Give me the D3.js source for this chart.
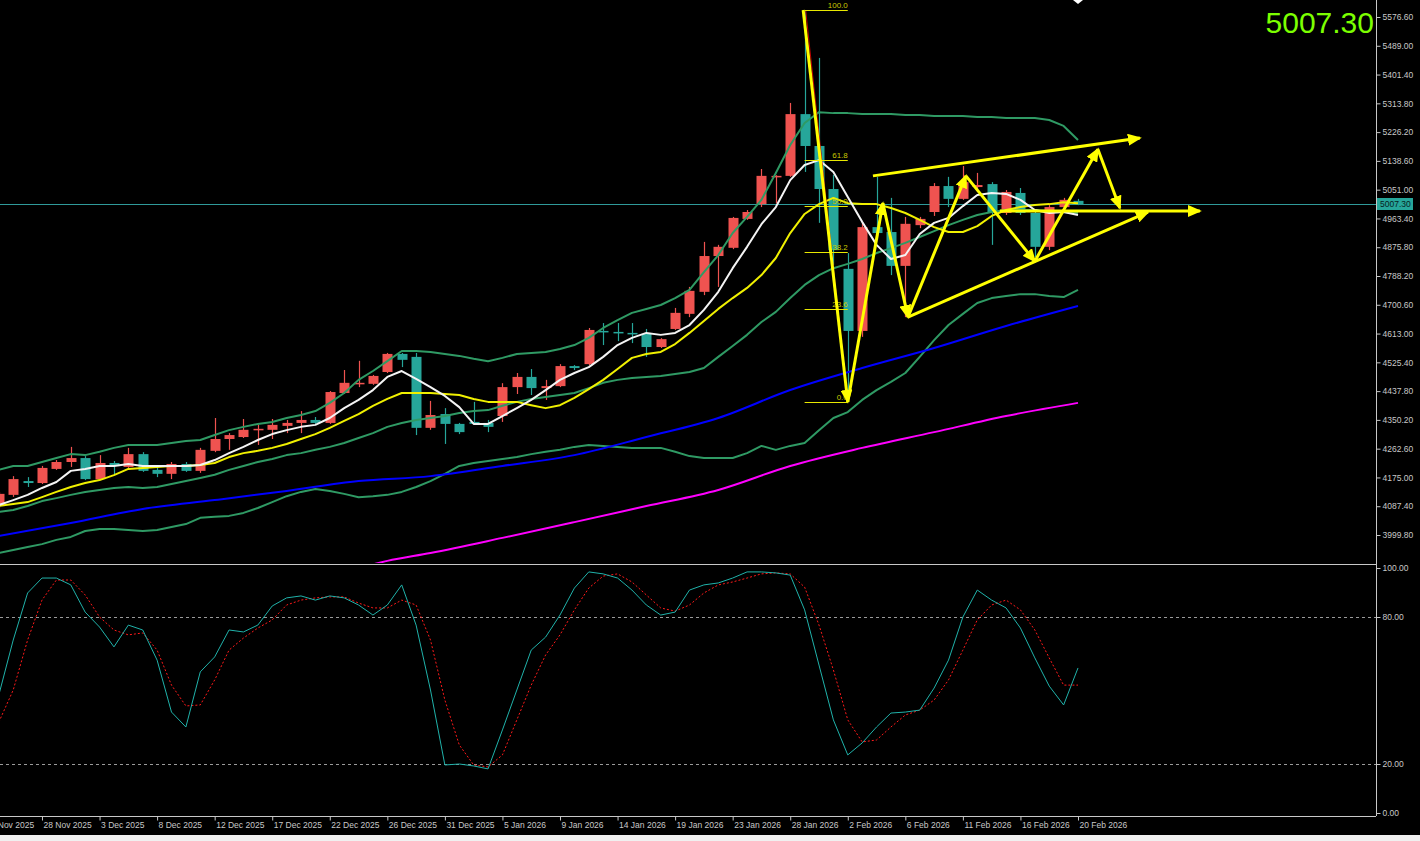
<!DOCTYPE html>
<html><head><meta charset="utf-8">
<script src="https://cdn.jsdelivr.net/npm/d3@7"></script>
<style>html,body{margin:0;padding:0;background:#000;overflow:hidden}</style>
</head><body>
<svg id="c" width="1420" height="841"></svg>
<script>
// ---------- DATA (XAUUSD daily) ----------
const tickBars = [-1,3,7,11,15,19,23,27,31,35,39,43,47,51,55,59,63,67,71,75];
const tickLabels = ["24 Nov 2025","28 Nov 2025","3 Dec 2025","8 Dec 2025","12 Dec 2025","17 Dec 2025","22 Dec 2025","26 Dec 2025","31 Dec 2025","5 Jan 2026","9 Jan 2026","14 Jan 2026","19 Jan 2026","23 Jan 2026","28 Jan 2026","2 Feb 2026","6 Feb 2026","11 Feb 2026","16 Feb 2026","20 Feb 2026"];
const priceTicks = [5576.6,5489.0,5401.4,5313.8,5226.2,5138.6,5051.0,4963.4,4875.8,4788.2,4700.6,4613.0,4525.4,4437.8,4350.2,4262.6,4175.0,4087.4,3999.8];
const stochTicks = [0,20,80,100];

const open  = [4088,4122,4164,4158,4201,4222,4234,4170,4219,4207,4246,4198,4186,4216,4195,4256,4292,4298,4320,4320,4332,4341,4350,4341,4432,4460,4460,4496,4551,4542,4326,4368,4338,4344,4341,4362,4450,4481,4447,4453,4514,4520,4621,4618,4615,4612,4572,4627,4673,4740,4849,4874,4962,5007,5090,5093,5281,5184,5053,4810,4621,4937,4922,4819,4943,4983,5062,5023,5059,5068,4980,5041,4980,4877,4998,5017];
const high  = [4131,4179,4176,4210,4228,4268,4240,4243,4225,4265,4252,4207,4222,4222,4265,4356,4310,4353,4335,4353,4350,4377,4359,4438,4502,4530,4487,4554,4554,4554,4408,4386,4341,4405,4350,4462,4493,4505,4472,4520,4517,4630,4645,4645,4645,4627,4599,4691,4755,4892,4883,4968,4989,5114,5095,5315,5598,5452,5096,4858,4953,5090,5026,4968,4968,5071,5090,5123,5102,5074,5050,5056,4989,5004,5026,5023];
const low   = [4082,4116,4146,4155,4198,4207,4167,4167,4183,4204,4192,4176,4170,4192,4189,4252,4259,4295,4274,4292,4310,4310,4338,4338,4429,4450,4457,4493,4511,4304,4320,4277,4307,4335,4313,4344,4429,4426,4411,4450,4502,4517,4578,4590,4584,4542,4569,4624,4663,4730,4755,4870,4959,4998,5010,5090,5105,4950,4822,4405,4603,4898,4791,4663,4934,4971,4998,5020,5044,4883,4974,4974,4846,4867,4995,5004];
const close = [4125,4170,4158,4204,4222,4234,4170,4219,4213,4246,4195,4186,4216,4195,4259,4292,4304,4320,4323,4335,4341,4350,4341,4435,4463,4463,4484,4551,4533,4326,4365,4338,4313,4338,4329,4450,4481,4447,4453,4514,4508,4624,4618,4615,4612,4572,4596,4676,4743,4849,4877,4965,4983,5093,5093,5281,5184,5053,4867,4621,4937,4919,4819,4947,4962,5062,5023,5074,5065,4980,5044,4980,4877,4998,5020,5007.3];

const maFast = [4091,4106,4122,4143,4161,4195,4201,4210,4210,4216,4210,4210,4210,4210,4213,4228,4249,4268,4289,4307,4319,4329,4335,4356,4386,4411,4441,4481,4499,4475,4450,4423,4389,4338,4338,4362,4386,4411,4441,4472,4493,4511,4542,4578,4600,4615,4609,4615,4639,4685,4740,4812,4877,4946,4998,5080,5126,5141,5105,5029,4953,4883,4840,4852,4916,4950,4965,5001,5035,5041,5038,5020,4989,4980,4983,4974];
const maMid  = [4088,4094,4100,4115,4131,4146,4158,4167,4182,4201,4204,4207,4210,4210,4213,4219,4237,4249,4256,4265,4277,4292,4307,4326,4347,4368,4393,4414,4432,4432,4432,4429,4426,4414,4405,4405,4405,4395,4386,4395,4417,4444,4472,4505,4539,4551,4557,4581,4615,4651,4688,4721,4752,4791,4843,4919,4977,5007,5026,5010,5007,5007,4995,4980,4959,4937,4922,4922,4940,4971,4989,4998,5004,5007,5013,5010];
const bbUpper = [4198,4210,4210,4222,4234,4246,4243,4253,4265,4274,4274,4274,4280,4286,4289,4304,4319,4329,4338,4344,4356,4365,4377,4402,4432,4472,4499,4529,4560,4560,4557,4551,4545,4536,4529,4539,4551,4554,4557,4566,4578,4600,4630,4654,4676,4688,4700,4721,4746,4800,4852,4919,4968,5020,5102,5187,5254,5287,5284,5284,5281,5281,5281,5278,5278,5275,5275,5275,5272,5272,5269,5269,5269,5263,5245,5202];
const bbMiddle = [4070,4076,4088,4103,4112,4122,4131,4137,4143,4146,4143,4146,4155,4164,4173,4183,4198,4210,4222,4231,4243,4249,4259,4268,4280,4295,4310,4329,4341,4350,4356,4362,4371,4377,4380,4393,4405,4414,4420,4426,4432,4447,4463,4472,4478,4481,4484,4490,4496,4508,4542,4575,4609,4648,4679,4721,4761,4791,4812,4825,4840,4858,4873,4889,4907,4925,4943,4959,4974,4983,4989,4989,4989,4986,4983,4980];
const bbLower = [3945,3954,3963,3972,3985,3994,4012,4018,4018,4015,4012,4015,4024,4033,4052,4055,4058,4067,4082,4100,4118,4131,4140,4134,4125,4115,4118,4122,4131,4146,4164,4186,4210,4219,4225,4231,4237,4246,4253,4259,4268,4274,4271,4268,4265,4265,4265,4253,4240,4234,4234,4234,4249,4271,4259,4271,4280,4319,4356,4374,4411,4441,4466,4493,4542,4593,4639,4673,4706,4721,4727,4733,4733,4727,4724,4746];
const slowBars = [0,5,10,15,20,25,30,35,40,45,50,55,60,65,70,75];
const maSlow = [3997,4036,4079,4106,4134,4164,4179,4210,4243,4298,4356,4441,4508,4569,4636,4697];
const longBars = [25,27,30,35,40,45,50,55,60,65,70,75];
const maLong = [3899,3921,3945,3991,4039,4088,4137,4210,4265,4313,4362,4402];

const stochK = [48.2,70.6,89.8,95.9,95.9,93.1,82.0,75.9,67.8,76.7,74.7,62.4,41.2,35.1,57.6,63.7,74.7,73.9,76.7,84.5,87.8,88.6,86.9,88.6,87.8,84.9,80.8,84.9,93.1,76.7,50.2,19.6,20.0,19.2,18.0,33.9,50.2,66.5,71.8,80.8,91.8,98.4,97.6,95.9,91.0,84.9,80.8,82.0,91.0,93.1,93.9,95.9,98.4,98.4,98.0,97.1,82.9,60.4,38.0,23.7,28.6,35.1,40.8,41.2,42.0,51.0,62.4,80.0,91.0,86.9,83.7,75.5,63.3,51.8,44.1,59.2];
const stochD = [37.1,50.2,70.6,86.9,95.1,95.1,89.0,80.0,74.7,72.7,73.5,66.5,52.2,43.7,44.1,54.3,66.5,71.4,75.5,78.8,84.9,86.9,87.8,88.2,88.2,85.7,83.7,83.7,86.9,84.9,70.6,46.1,27.8,19.6,18.8,23.7,38.0,52.2,64.5,72.7,82.9,91.8,96.7,97.6,94.3,89.0,83.7,82.4,84.9,89.8,93.1,94.3,95.9,97.6,98.0,97.6,92.2,76.7,58.4,38.0,29.0,29.8,35.1,40.0,42.0,46.1,54.3,66.5,78.8,84.9,86.9,82.9,74.7,63.3,52.2,52.2];
const stochLevels = [80,20];

// drawings: [bar, price]
const zigzag = [[55.9,5598],[59,4405],[61.44,5010],[63.18,4663],[67.21,5093],[72.0,4833],[76.38,5174],[77.91,4995]];
const upperTrend = [[60.75,5093],[79.3,5208]];
const lowerTrend = [[63.18,4663],[79.86,4983]];
const flatLine = [[69.57,4986],[83.47,4986]];
const fibHigh = [56,5597.9];
const fibLow = [59,4404.7];
const fibLevels = [0,23.6,38.2,50,61.8,100];

// ---------- CHART ----------
const W=1420,H=841, plotR=1376, mainB=563, stTop=566, stB=816;
const svg=d3.select("#c");
svg.append("rect").attr("width",W).attr("height",H).attr("fill","#000");
svg.append("rect").attr("y",835).attr("width",W).attr("height",6).attr("fill","#f0f0f0");

const x=d3.scaleLinear().domain([0,75]).range([-1.17,1078]);
const y=d3.scaleLinear().domain([3999.8,5576.6]).range([535,17]);
const ys=d3.scaleLinear().domain([0,100]).range([813,568]);

const defs=svg.append("defs");
defs.append("clipPath").attr("id","cm").append("rect").attr("x",0).attr("y",0).attr("width",plotR).attr("height",mainB);
defs.append("clipPath").attr("id","cs").append("rect").attr("x",0).attr("y",stTop).attr("width",plotR).attr("height",stB-stTop);
defs.append("marker").attr("id","ah").attr("viewBox","0 0 14 12").attr("refX",12).attr("refY",6)
  .attr("markerWidth",14).attr("markerHeight",12).attr("markerUnits","userSpaceOnUse").attr("orient","auto")
  .append("path").attr("d","M0,0L14,6L0,12Z").attr("fill","#ffff00");

const font="'Liberation Sans', Arial, sans-serif";
const axisCol="#c8c8c8";

const main=svg.append("g").attr("clip-path","url(#cm)");
// current price line
const last=close[close.length-1];
main.append("line").attr("x1",0).attr("x2",plotR).attr("y1",Math.round(y(last))+0.5).attr("y2",Math.round(y(last))+0.5)
  .attr("stroke","#2f9a9a").attr("stroke-width",1);

// candles
const bars=d3.range(open.length);
const up="#ef5350", dn="#26a69a";
const cg=main.append("g");
bars.forEach(i=>{
  const c=close[i]>=open[i]?up:dn;
  const cx=Math.round(x(i))+0.5;
  cg.append("line").attr("x1",cx).attr("x2",cx).attr("y1",y(high[i])).attr("y2",y(low[i])).attr("stroke",c).attr("stroke-width",1.2);
  const t=y(Math.max(open[i],close[i])), b=y(Math.min(open[i],close[i]));
  cg.append("rect").attr("x",cx-5).attr("width",10).attr("y",t).attr("height",Math.max(1.5,b-t)).attr("fill",c);
});

const lineIdx=(arr,col,w)=>main.append("path").datum(arr).attr("fill","none").attr("stroke",col).attr("stroke-width",w)
  .attr("stroke-linejoin","round").attr("d",d3.line().x((d,i)=>x(i)).y(d=>y(d)));
const lineBars=(idx,arr,col,w)=>main.append("path").datum(arr).attr("fill","none").attr("stroke",col).attr("stroke-width",w)
  .attr("d",d3.line().x((d,i)=>x(idx[i])).y(d=>y(d)).curve(d3.curveMonotoneX));

const bbCol="#2f9a64";
lineIdx(bbUpper,bbCol,2);
lineIdx(bbMiddle,bbCol,2);
lineIdx(bbLower,bbCol,2);
lineBars(slowBars,maSlow,"#0000ff",2);
lineBars(longBars,maLong,"#ff00ff",2);
lineIdx(maMid,"#f0f000",2);
lineIdx(maFast,"#f4f4f4",2);

// fibonacci
const fx1=x(fibHigh[0]), fx2=x(fibLow[0]);
const fg=main.append("g");
fg.append("line").attr("x1",fx1+1).attr("y1",y(fibHigh[1])).attr("x2",fx2).attr("y2",y(fibLow[1])).attr("stroke","#c00000").attr("stroke-width",1);
fibLevels.forEach(l=>{
  const p=fibLow[1]+(fibHigh[1]-fibLow[1])*l/100;
  fg.append("line").attr("x1",fx1).attr("x2",fx2).attr("y1",Math.round(y(p))+0.5).attr("y2",Math.round(y(p))+0.5).attr("stroke","#e8e800").attr("stroke-width",1);
  fg.append("text").attr("x",fx2).attr("y",y(p)-2).attr("text-anchor","end").attr("fill","#c8c800")
    .attr("font-family",font).attr("font-size",8).text(l.toFixed(1));
});

// hand-drawn arrows
const ag=main.append("g");
const seg=(a,b,arrow)=>{const l=ag.append("line").attr("x1",x(a[0])).attr("y1",y(a[1])).attr("x2",x(b[0])).attr("y2",y(b[1]))
  .attr("stroke","#ffff00").attr("stroke-width",3); if(arrow) l.attr("marker-end","url(#ah)");};
for(let k=0;k<zigzag.length-1;k++) seg(zigzag[k],zigzag[k+1],true);
seg(upperTrend[0],upperTrend[1],true);
seg(lowerTrend[0],lowerTrend[1],true);
seg(flatLine[0],flatLine[1],true);

// last bar marker
svg.append("path").attr("d",`M${x(75)-5},0L${x(75)},4L${x(75)+5},0Z`).attr("fill","#fff");

// big price
svg.append("text").attr("x",1374).attr("y",33).attr("text-anchor","end").attr("fill","#7cff00")
  .attr("font-family",font).attr("font-size",30).text(last.toFixed(2));

// frames
svg.append("line").attr("x1",plotR+0.5).attr("x2",plotR+0.5).attr("y1",0).attr("y2",stB).attr("stroke",axisCol);
svg.append("line").attr("x1",0).attr("x2",plotR).attr("y1",564.5).attr("y2",564.5).attr("stroke",axisCol);
svg.append("line").attr("x1",0).attr("x2",plotR).attr("y1",stB+0.5).attr("y2",stB+0.5).attr("stroke",axisCol);

// price axis
const pa=svg.append("g").attr("transform",`translate(${plotR+0.5},0)`)
  .call(d3.axisRight(y).tickValues(priceTicks).tickSize(4).tickPadding(2).tickFormat(d3.format(".2f")));
pa.select(".domain").remove();
pa.selectAll("line").attr("stroke",axisCol);
pa.selectAll("text").attr("fill",axisCol).attr("font-family",font).attr("font-size",8.5);
// price tag
const ty=Math.round(y(last));
svg.append("rect").attr("x",plotR+1).attr("y",ty-6).attr("width",36).attr("height",12).attr("fill","#26a69a");
svg.append("text").attr("x",plotR+4).attr("y",ty+3).attr("fill","#062222").attr("font-family",font).attr("font-size",8.5).text(last.toFixed(2));

// stochastic
const st=svg.append("g").attr("clip-path","url(#cs)");
stochLevels.forEach(v=>st.append("line").attr("x1",0).attr("x2",plotR).attr("y1",Math.round(ys(v))+0.5).attr("y2",Math.round(ys(v))+0.5)
  .attr("stroke","#9a9a9a").attr("stroke-dasharray","3,3"));
st.append("path").datum(stochD).attr("fill","none").attr("stroke","#ff1a1a").attr("stroke-width",1).attr("stroke-dasharray","2,2")
  .attr("d",d3.line().x((d,i)=>x(i)).y(d=>ys(d)));
st.append("path").datum(stochK).attr("fill","none").attr("stroke","#20b2aa").attr("stroke-width",1)
  .attr("d",d3.line().x((d,i)=>x(i)).y(d=>ys(d)));
const sa=svg.append("g").attr("transform",`translate(${plotR+0.5},0)`)
  .call(d3.axisRight(ys).tickValues(stochTicks).tickSize(4).tickPadding(2).tickFormat(d3.format(".2f")));
sa.select(".domain").remove();
sa.selectAll("line").attr("stroke",axisCol);
sa.selectAll("text").attr("fill",axisCol).attr("font-family",font).attr("font-size",8.5);

// date axis
const da=svg.append("g").attr("transform",`translate(0,${stB+0.5})`)
  .call(d3.axisBottom(x).tickValues(tickBars).tickSize(4).tickFormat((d,i)=>tickLabels[i]));
da.select(".domain").remove();
da.selectAll("line").attr("stroke",axisCol);
da.selectAll("text").attr("fill",axisCol).attr("font-family",font).attr("font-size",8.5)
  .attr("text-anchor","start").attr("x",1).attr("y",5);
</script>
</body></html>
